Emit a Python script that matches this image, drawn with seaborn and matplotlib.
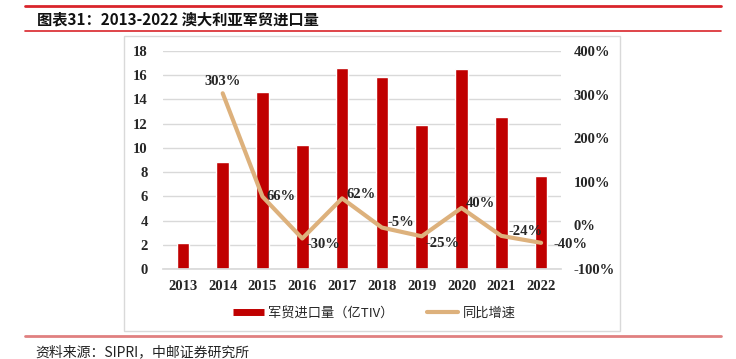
import numpy as np
import pandas as pd
import matplotlib.pyplot as plt
import seaborn as sns
from matplotlib.patches import Rectangle
from matplotlib.lines import Line2D

# Data
years = ["2013", "2014", "2015", "2016", "2017", "2018", "2019", "2020", "2021", "2022"]
imports = [2.18, 8.8, 14.6, 10.25, 16.6, 15.85, 11.9, 16.5, 12.55, 7.65]
growth = [None, 3.03, 0.66, -0.30, 0.62, -0.05, -0.25, 0.40, -0.24, -0.40]
growth_labels = ["", "303%", "66%", "-30%", "62%", "-5%", "-25%", "40%", "-24%", "-40%"]

sns.set_theme(style="white")
plt.rcParams['font.family'] = ['Noto Sans CJK SC', 'DejaVu Sans']

num_font = dict(family="Liberation Serif", weight="bold", size=10.5)
bar_color = "#C00000"
line_color = "#DDB17C"

fig = plt.figure(figsize=(7.36, 3.59), dpi=100)
W, H = 736, 359

def fx(px):
    return px / W

def fy(py):
    return 1 - py / H

# header / footer decoration
fig.add_artist(Line2D([fx(25), fx(721)], [fy(6), fy(6)], color="#D9252B", lw=2))
fig.add_artist(Line2D([fx(25), fx(721)], [fy(31), fy(31)], color="#D9252B", lw=1.2))
fig.add_artist(Line2D([fx(25), fx(721)], [fy(335.5), fy(335.5)], color="#E08080", lw=2))
fig.add_artist(Rectangle((fx(124), fy(331)), fx(620) - fx(124), fy(35.5) - fy(331),
                         fill=False, edgecolor="#D9D9D9", lw=1))
fig.text(fx(37), fy(19), "图表31：2013-2022 澳大利亚军贸进口量", fontsize=11, weight="bold",
         va="center", ha="left", color="#111111")
fig.text(fx(35), fy(352), "资料来源：SIPRI，中邮证券研究所", fontsize=10, va="center", ha="left",
         color="#222222")

ax = fig.add_axes([fx(163), fy(269), fx(561) - fx(163), fy(51) - fy(269)])
df = pd.DataFrame({"year": years, "imports": imports})
sns.barplot(data=df, x="year", y="imports", color=bar_color, saturation=1, width=0.32, ax=ax)
ax.set_ylim(0, 18)
ax.set_yticks(range(0, 19, 2))
ax.set_xlim(-0.5, len(years) - 0.5)
ax.yaxis.grid(True, color="#D9D9D9", lw=1)
ax.set_axisbelow(True)
for s in ax.spines.values():
    s.set_visible(False)
ax.spines["bottom"].set_visible(True)
ax.spines["bottom"].set_color("#D9D9D9")
ax.set_xlabel("")
ax.set_ylabel("")
ax.tick_params(axis="y", pad=11, length=0)
ax.tick_params(axis="x", pad=8, length=0)
for t in ax.get_yticklabels() + ax.get_xticklabels():
    t.set_fontfamily("Liberation Serif")
    t.set_fontweight("bold")
    t.set_fontsize(10.5)

ax2 = ax.twinx()
x_idx = [i for i, g in enumerate(growth) if g is not None]
g_vals = [g for g in growth if g is not None]
sns.lineplot(x=x_idx, y=g_vals, color=line_color, lw=3, ax=ax2)
ax2.set_ylim(-1, 4)
ax2.set_yticks([-1, 0, 1, 2, 3, 4])
ax2.set_yticklabels(["-100%", "0%", "100%", "200%", "300%", "400%"])
for s in ax2.spines.values():
    s.set_visible(False)
ax2.tick_params(axis="y", pad=9, length=0)
for t in ax2.get_yticklabels():
    t.set_fontfamily("Liberation Serif")
    t.set_fontweight("bold")
    t.set_fontsize(10.5)
ax2.set_ylabel("")
ax2.grid(False)

offsets = {1: (0, 4, "center", "bottom"), 2: (3, 0, "left", "center"), 3: (3, -4, "left", "center"),
           4: (3, 3, "left", "center"), 5: (4, 4, "left", "center"), 6: (3, -5, "left", "center"),
           7: (3, 3, "left", "center"), 8: (5, 3, "left", "center"), 9: (9, -1, "left", "center")}
for i, g in enumerate(growth):
    if g is None:
        continue
    dx, dy, ha, va = offsets[i]
    ax2.annotate(growth_labels[i], (i, g), xytext=(dx, dy), textcoords="offset points",
                 ha=ha, va=va, **num_font)

handles = [Line2D([0], [0], color=bar_color, lw=5, solid_capstyle="butt"),
           Line2D([0], [0], color=line_color, lw=3)]
fig.legend(handles, ["军贸进口量（亿TIV）", "同比增速"], loc="center", bbox_to_anchor=(fx(374), fy(313)),
           ncol=2, frameon=False, fontsize=9.5, handlelength=2.4, columnspacing=2.5, handletextpad=0.3)

fig.savefig("out.png", dpi=100)
